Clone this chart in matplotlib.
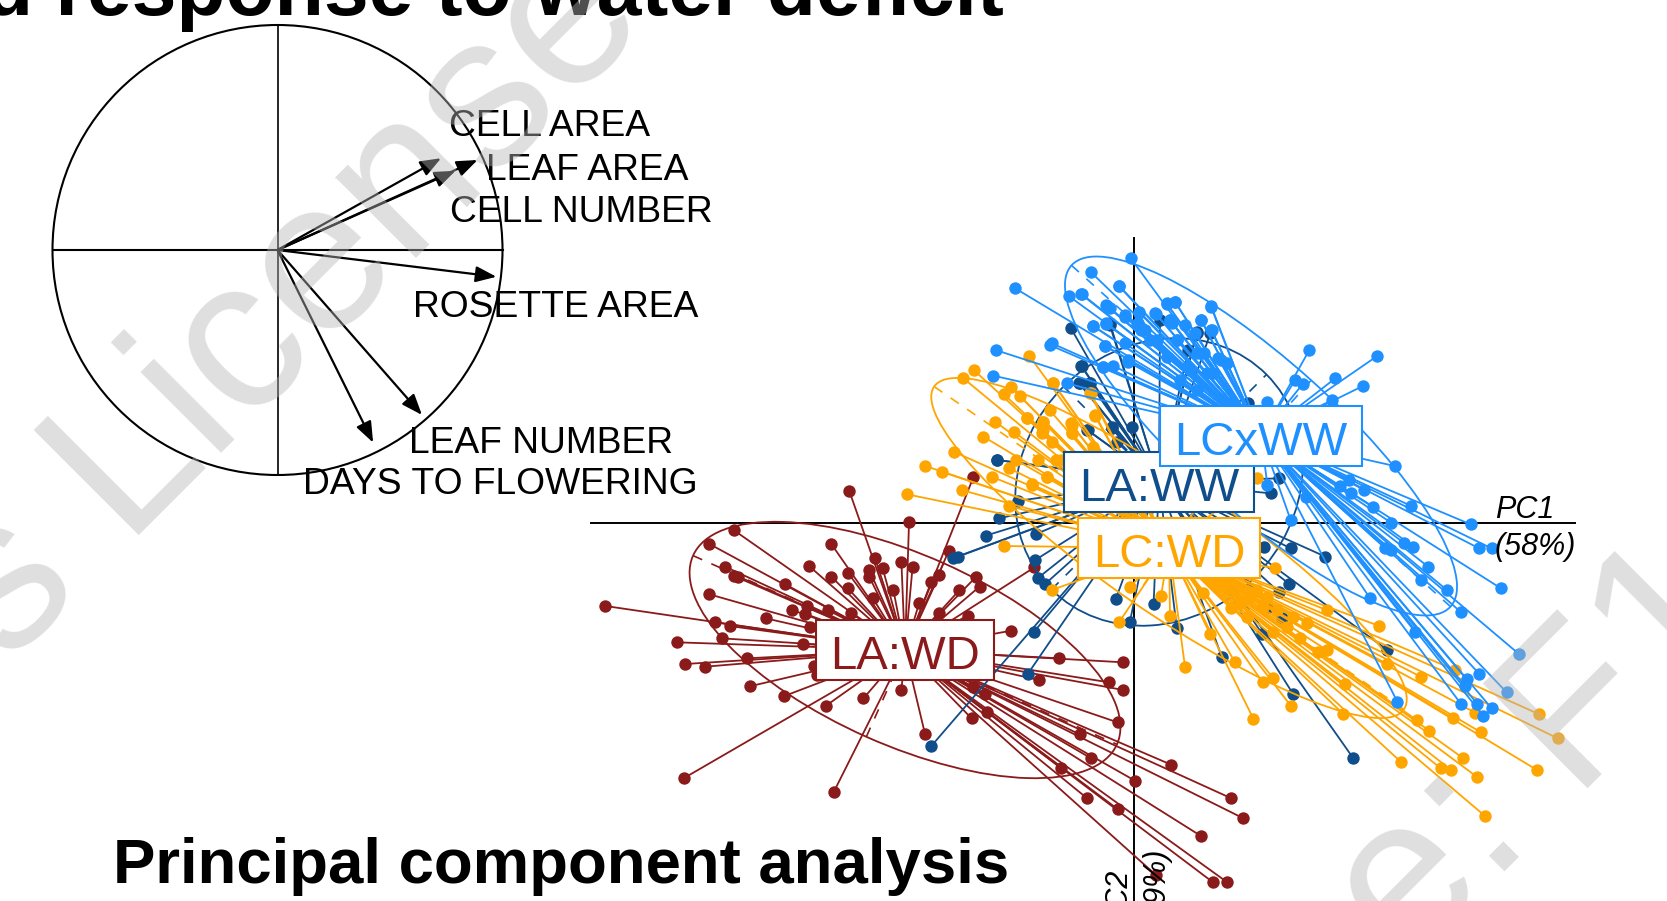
import numpy as np
import matplotlib
matplotlib.use("Agg")
import matplotlib.pyplot as plt
from matplotlib.patches import Ellipse, Circle

plt.rcParams['font.family'] = ['Liberation Sans', 'DejaVu Sans']

# ---- correlation circle: loadings on PC1 / PC2 (unit circle) ----
var_names = ["CELL AREA", "LEAF AREA", "CELL NUMBER", "ROSETTE AREA", "LEAF NUMBER", "DAYS TO FLOWERING"]
load_pc1 = [0.727, 0.889, 0.791, 0.973, 0.642, 0.425]
load_pc2 = [0.408, 0.400, 0.352, -0.119, -0.733, -0.856]
var_label_x = [449, 486, 450, 413, 409, 303]
var_label_y = [136, 180, 222, 317, 453, 494]

# ---- score plot: values, in crop frames ----
# A: x/2.24+900, y/3+230   B: x/2.24+580, y/3+470   C: x/3+1100, y/3+560
# D: x/3+1080, y/3+280     E: x/3+930, y/3+370
red_b = [(603,62),(881,22),(737,157),(344,180),(563,222),(290,222),(826,243),(661,265),(513,288),(720,277),
         (745,290),(678,295),(648,300),(648,320),(325,290),(345,318),(355,320),(600,308),(563,320),(805,315),
         (886,322),(787,335),(895,350),(460,343),(600,355),(702,360),(850,360),(290,373),(57,408),(656,385),
         (760,398),(508,408),(475,420),(505,432),(555,420),(608,430),(805,430),(868,437),(416,445),(303,457),
         (335,468),(515,472),(966,482),(218,517),(317,505),(500,522),(375,565),(236,582),(281,590),(525,587),
         (530,615),(1073,565),(1217,577),(1028,630),(1185,637),(1217,660),(380,649),(456,679),(720,660),(635,685),
         (550,708),(877,745),(912,727),(908,672),(880,650),(1204,757),(1119,793),(773,793),(1145,865),(1078,895),
         (1324,884),(1243,932),(1459,985),(1486,1045),(232,925),(568,967),(1136,985),(1204,1017),(1391,1098),
         (1418,1237),(1450,1237),(1290,1215),(1018,292)]

navy_a = [(383,295),(406,408),(400,458),(425,460),(218,690),(265,812),(222,865),(192,917),(305,912),(130,980),
          (118,985),(303,990),(308,1045),(325,1062),(483,1108),(568,1122),(515,1175),(620,1195),(875,955),(953,980),
          (872,1062),(815,950),(830,790),(850,745),(475,590),(520,592),(420,600),(780,518),(665,305),(695,310),(470,285)]
navy_b = [(1016,487),(1003,612),(787,828)]
navy_c = [(538,97),(505,140),(545,175),(487,222),(365,290),(580,403),(760,595),(862,270)]
navy_d = [(350,160),(240,120),(90,130),(5,258),(325,210)]
navy_e = [(202,270),(472,180),(545,175),(560,215),(450,40),(480,38)]

orange_a = [(290,378),(165,420),(142,445),(248,470),(343,458),(232,492),(268,497),(428,490),(335,540),(437,555),
            (285,565),(320,575),(382,580),(320,600),(385,610),(213,575),(255,605),(187,620),(120,665),(310,690),
            (245,715),(205,740),(330,740),(295,765),(57,708),(93,725),(138,780),(16,793),(245,828),(232,948),
            (340,1080),(800,745),(360,690),(260,690)]
orange_c = [(525,25),(90,80),(183,108),(57,187),(210,168),(308,100),(392,145),(330,222),(680,150),(622,190),
            (838,198),(520,215),(440,170),(680,270),(655,275),(862,312),(405,307),(255,320),(488,367),(520,355),
            (735,373),(962,350),(1065,330),(573,438),(460,476),(730,462),(1318,463),(1373,535),(1125,458),(1060,475),
            (950,480),(988,512),(1143,517),(1090,595),(904,607),(1022,625),(1053,630),(1130,650),(1311,630),(1155,768),
            (470,90),(490,140),(450,110),(560,200),(600,235),(500,110),(530,150),(580,170),(420,130)]
orange_e = [(290,145),(340,155),(335,190),(425,165),(425,190),(365,215),(495,138),(480,70),(378,270),(352,320),
            (305,343),(490,230),(368,38)]

blue_a = [(517,85),(428,127),(258,175),(490,168),(378,198),(405,192),(462,225),(470,235),(598,222),(616,216),
          (697,228),(536,248),(572,250),(505,262),(675,270),(432,288),(462,282),(605,270),(610,280),(530,285),
          (697,300),(340,340),(335,345),(460,348),(214,360),(917,360),(1069,378),(660,310),(510,395),(455,410),
          (209,437),(375,460),(975,445),(885,450),(902,462),(1037,468),(968,510),(823,515),(1108,708),(985,768),
          (1005,750),(1040,780),(823,765),(1145,828),(875,870),(1100,878),(1278,883),(1297,955),(1325,955),(1087,955),
          (1130,940),(1150,950),(1183,1010),(1168,1050),(1225,1080),(1346,1075),(1052,1103),(1257,1147),(1100,960),
          (910,800),(620,330),(680,370),(720,390),(560,330),(650,420),(700,430),(540,300),(1010,790),(1060,830)]
blue_c = [(945,215),(1258,283),(1138,342),(1100,358),(1095,378),(1220,397),(1083,432),(1132,432),(1175,445),
          (1150,468),(892,425)]
blue_d = [(118,18),(5,42),(80,78),(260,70),(285,65),(393,80),(135,105),(178,95),(228,102),(40,138),(78,130),
          (270,120),(315,135),(363,120),(395,150),(175,130),(195,150),(75,198),(135,190),(70,262),(100,258),(145,240),
          (440,250),(415,235),(230,180),(290,180),(350,220),(260,230),(320,260),(380,280),(300,300),(350,330)]

group_names = ["LA:WD", "LA:WW", "LC:WD", "LCxWW"]
group_colors = ["#8B1A1A", "#104E8B", "#FFA500", "#1E90FF"]
centroid_x = [905, 1159, 1169, 1261]
centroid_y = [650, 482, 548, 436]
ell_major = [232, 152, 285, 255]
ell_minor = [95, 135, 65, 75]
ell_angle = [24, -45, 34.5, 42]
box_half_w = [89, 95, 91, 101]
box_half_h = [30, 30, 30, 30]


def frame(p, x0, sx, y0):
    p = np.array(p, float)
    return np.c_[p[:, 0] / sx + x0, p[:, 1] / 3 + y0]


def frame_a(p):
    return frame(p, 900, 2.24, 230)


def frame_b(p):
    return frame(p, 580, 2.24, 470)


def frame_c(p):
    return frame(p, 1100, 3, 560)


def frame_d(p):
    return frame(p, 1080, 3, 280)


def frame_e(p):
    return frame(p, 930, 3, 370)


group_points = [
    frame_b(red_b),
    np.vstack([frame_a(navy_a), frame_b(navy_b), frame_c(navy_c), frame_d(navy_d), frame_e(navy_e)]),
    np.vstack([frame_a(orange_a), frame_c(orange_c), frame_e(orange_e)]),
    np.vstack([frame_a(blue_a), frame_c(blue_c), frame_d(blue_d)]),
]

fig = plt.figure(figsize=(16.67, 9.01), dpi=100)
ax = fig.add_axes([0, 0, 1, 1])
ax.set_xlim(0, 1667)
ax.set_ylim(901, 0)
ax.axis('off')

# correlation circle
cx, cy, R = 277.5, 250, 225
ax.add_patch(Circle((cx, cy), R, fill=False, ec='black', lw=1.5, zorder=3))
ax.plot([cx, cx], [cy - R, cy + R], color='black', lw=1.2, zorder=3)
ax.plot([cx - R, cx + R], [cy, cy], color='black', lw=1.5, zorder=3)
for lx, ly in zip(load_pc1, load_pc2):
    ax.annotate('', xy=(cx + R * lx, cy - R * ly), xytext=(cx, cy), zorder=3,
                arrowprops=dict(arrowstyle='-|>,head_length=0.7,head_width=0.27', color='black', lw=1.6,
                                shrinkA=0, shrinkB=0, mutation_scale=18))
for name, tx, ty in zip(var_names, var_label_x, var_label_y):
    ax.text(tx, ty, name, fontsize=26.8, color='black', ha='left', va='baseline', zorder=4)

# PCA axes
ax.plot([591, 1575], [523, 523], color='black', lw=1.4, zorder=1)
ax.plot([1134, 1134], [238, 901], color='black', lw=1.4, zorder=1)

# star plot
for i in range(4):
    c = group_colors[i]
    pts = group_points[i]
    mx, my = centroid_x[i], centroid_y[i]
    z = 2 + i * 0.1
    for px, py in pts:
        ax.plot([mx, px], [my, py], color=c, lw=1.3, zorder=z, solid_capstyle='round')
    ax.scatter(pts[:, 0], pts[:, 1], s=80, color=c, linewidths=0, zorder=z)
    ax.add_patch(Ellipse((mx, my), 2 * ell_major[i], 2 * ell_minor[i], angle=ell_angle[i],
                         fill=False, ec=c, lw=1.3, zorder=z))
    t = np.radians(ell_angle[i])
    for a, b in [(ell_major[i], 0), (0, ell_minor[i])]:
        dx = a * np.cos(t) - b * np.sin(t)
        dy = a * np.sin(t) + b * np.cos(t)
        ax.plot([mx - dx, mx + dx], [my - dy, my + dy], color=c, lw=1.2, ls=(0, (6, 6)), zorder=z)

# group labels
for i, order in enumerate([0, 2, 1, 3]):
    w, h = box_half_w[order], box_half_h[order]
    ax.add_patch(plt.Rectangle((centroid_x[order] - w, centroid_y[order] - h), 2 * w, 2 * h, fc='white',
                               ec=group_colors[order], lw=1.5, zorder=6 + i * 0.1 - 0.05))
    ax.text(centroid_x[order], centroid_y[order] + 2, group_names[order], fontsize=34, color=group_colors[order],
            ha='center', va='center_baseline', zorder=6 + i * 0.1)

# axis names
ax.text(1495, 518, "PC1", fontsize=22, style='italic', ha='left', va='baseline', zorder=5)
ax.text(1495, 555, "(58%)", fontsize=22, style='italic', ha='left', va='baseline', zorder=5)
ax.text(1127, 870, "PC2", fontsize=22, style='italic', rotation=90, rotation_mode='anchor',
        ha='right', va='baseline', zorder=5)
ax.text(1165, 848, "(19%)", fontsize=22, style='italic', rotation=90, rotation_mode='anchor',
        ha='right', va='baseline', zorder=5)

# headings
ax.text(1004, 15, "d response to water deficit", fontsize=58, fontweight='bold', ha='right', va='baseline', zorder=8)
ax.text(113, 883, "Principal component analysis", fontsize=45.7, fontweight='bold', ha='left', va='baseline', zorder=8)

# licence watermark
ax.text(9, 666, "s License", fontsize=155, color='#B6B6B6', alpha=0.44, rotation=45, rotation_mode='anchor',
        ha='left', va='baseline', zorder=10, clip_on=True)
ax.text(1407, 970, "e: F1", fontsize=155, color='#B6B6B6', alpha=0.44, rotation=45, rotation_mode='anchor',
        ha='left', va='baseline', zorder=10, clip_on=True)

fig.savefig("out.png", dpi=100)
